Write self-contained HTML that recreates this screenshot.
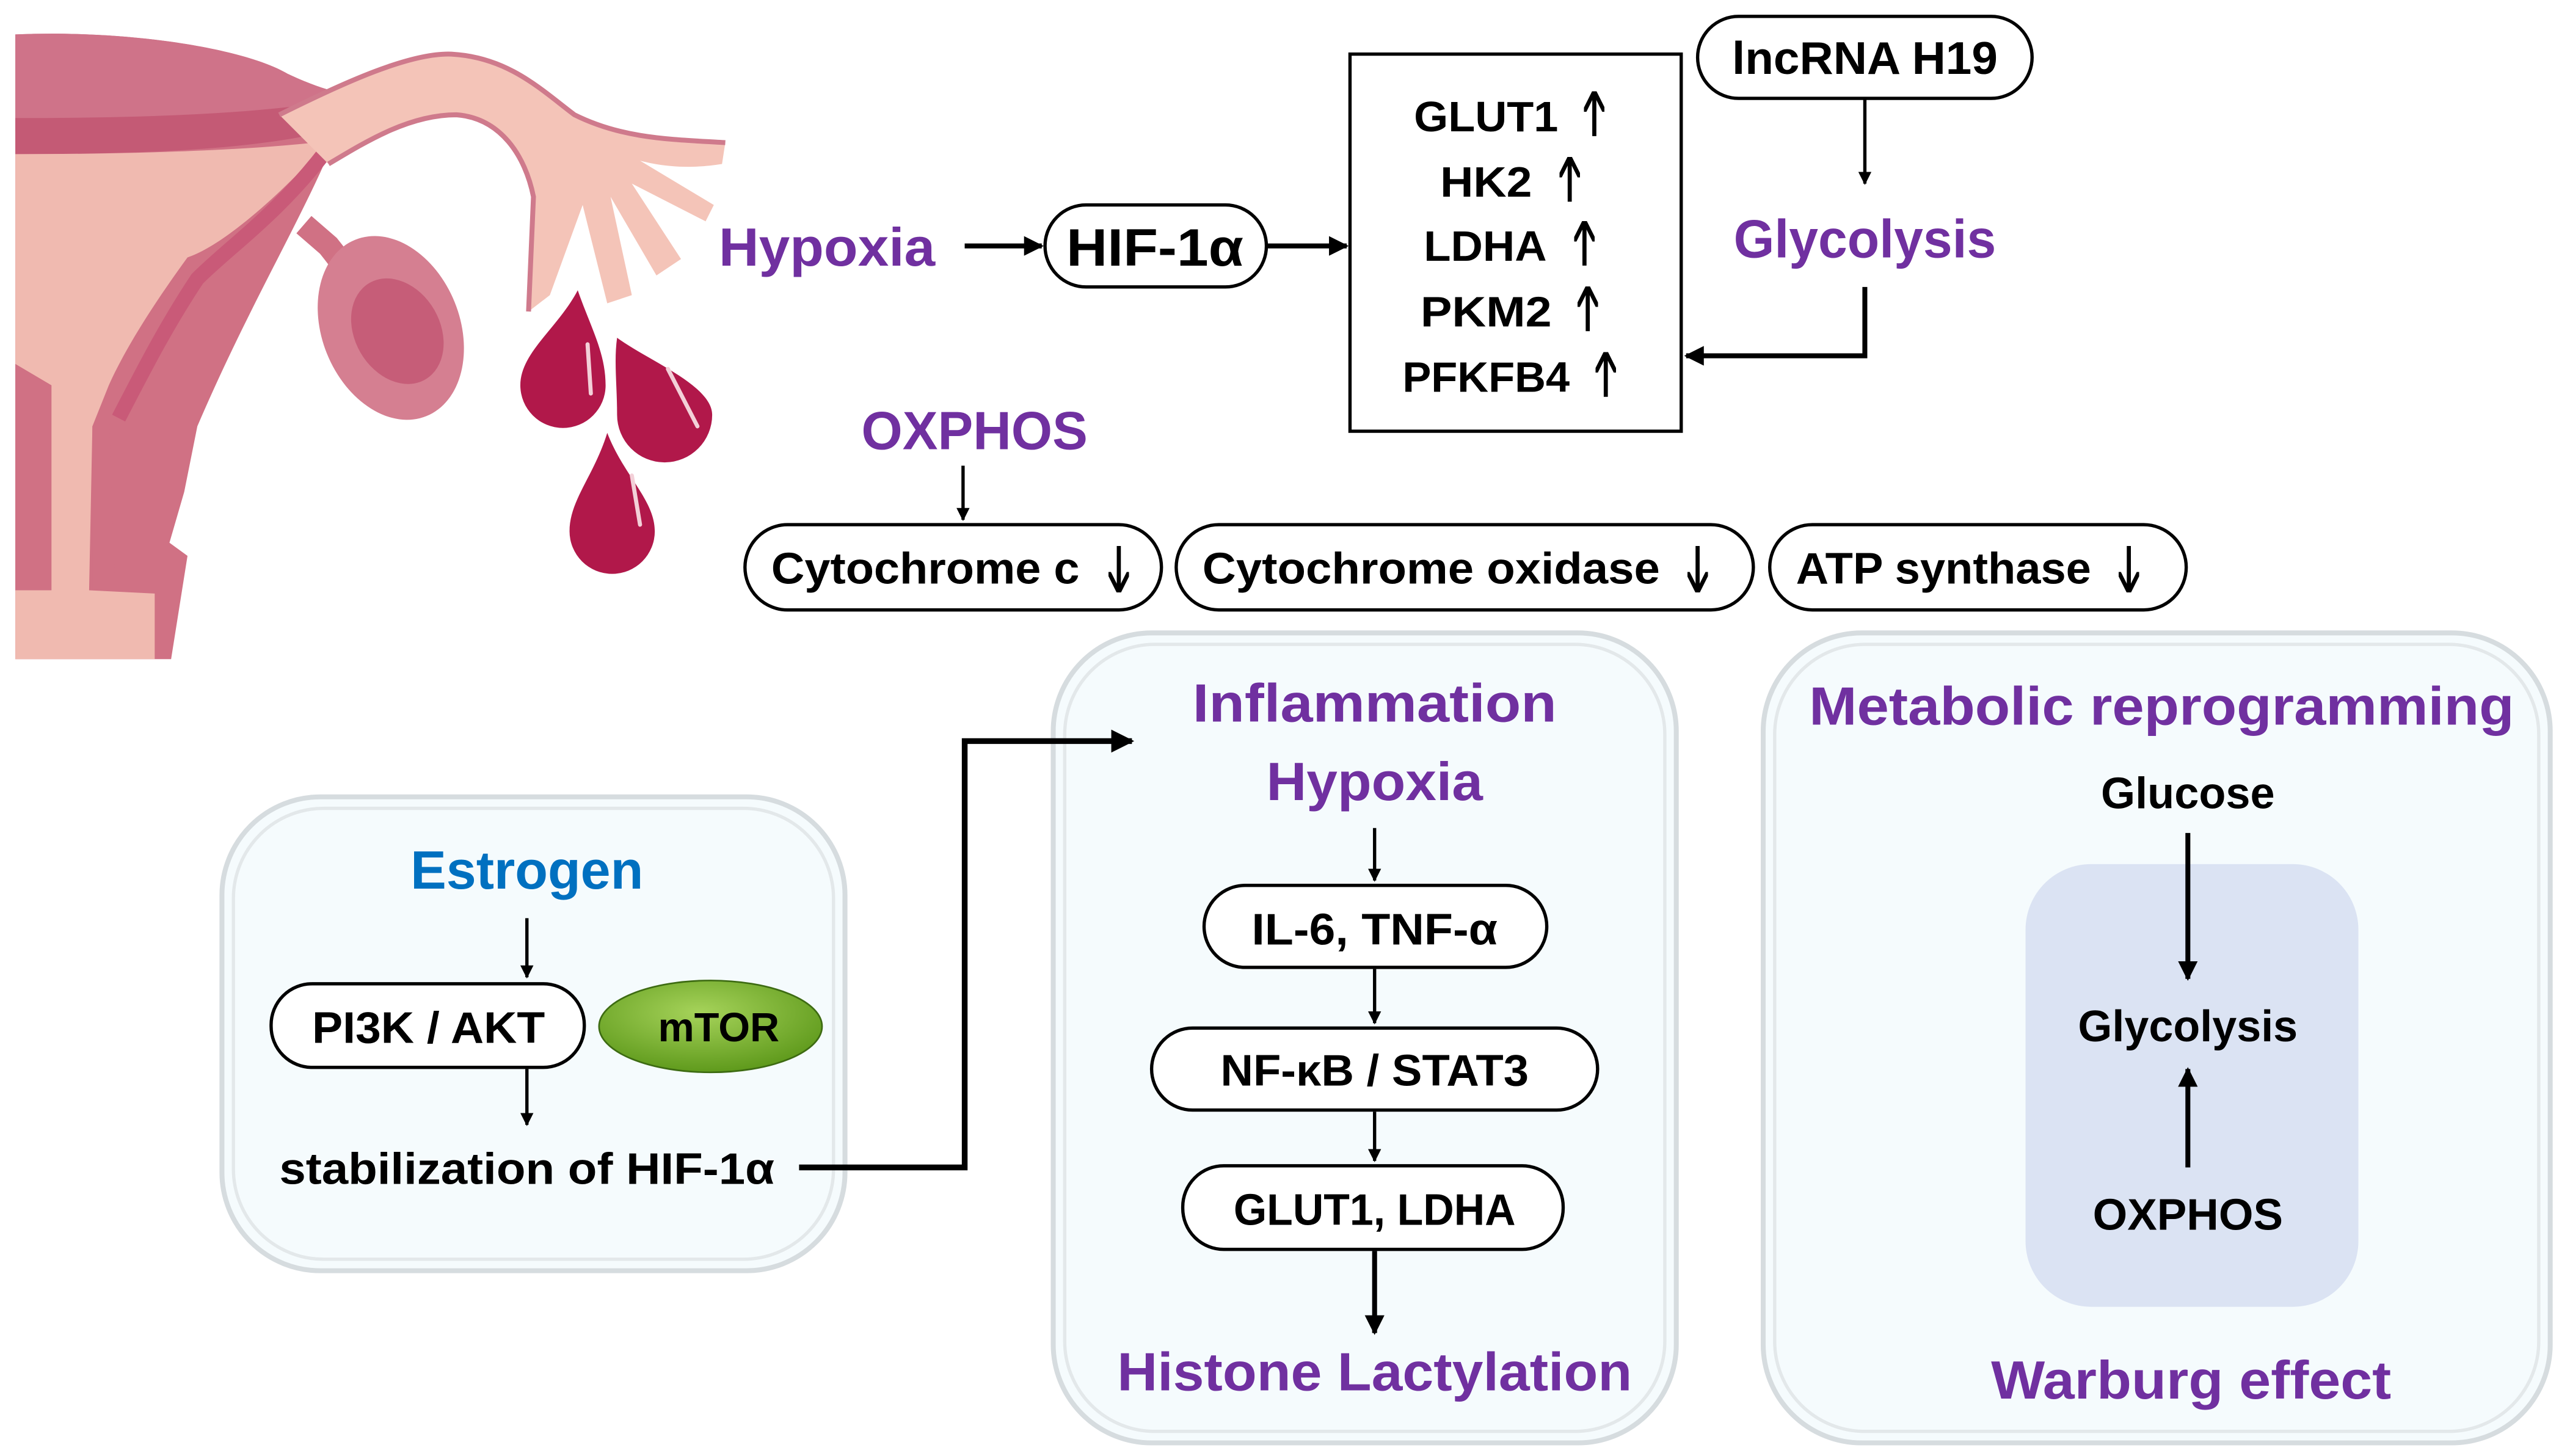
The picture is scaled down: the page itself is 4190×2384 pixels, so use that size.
<!DOCTYPE html>
<html><head><meta charset="utf-8"><style>
html,body{margin:0;padding:0;background:#fff;}
svg{display:block;}
text{font-family:"Liberation Sans",sans-serif;font-weight:bold;}
</style></head><body>
<svg width="4190" height="2384" viewBox="0 0 1560 888" xmlns="http://www.w3.org/2000/svg">
<defs>
<marker id="a" viewBox="0 0 10 10" refX="9" refY="5" markerWidth="4" markerHeight="4" orient="auto"><path d="M0,0L10,5L0,10z" fill="#000"/></marker>
<marker id="o" viewBox="0 0 10 10" refX="9" refY="5" markerWidth="5" markerHeight="5" orient="auto"><path d="M0,0L10,5L0,10" fill="none" stroke="#000" stroke-width="2"/></marker>
<radialGradient id="g" cx="45%" cy="35%" r="65%"><stop offset="0" stop-color="#a6d35a"/><stop offset="1" stop-color="#5f9a1c"/></radialGradient>
</defs>
<!-- uterus illustration -->
<path d="M9,21 C80,18 150,30 175,45 C190,52 200,55 205,56 L200,94 C180,140 150,190 120,260 L112,300 L103,331 L114,339 L104,402 L9,402 Z" fill="#d07184"/>
<path d="M9,21 C80,18 150,30 175,45 C190,52 200,55 205,56 L200,72 C150,78 80,80 9,80 Z" fill="#cf7389"/>
<path d="M9,72 C80,72 150,70 200,62 L200,80 C150,92 80,94 9,94 Z" fill="#c45a75"/>
<path d="M9,94 C80,94 150,92 200,86 C170,120 135,150 114,157 C90,190 75,215 66,235 L56,260 L54,360 L94,362 L94,402 L9,402 L9,360 L31,360 L31,235 L9,222 Z" fill="#f0bab0"/>
<path d="M200,90 C170,130 140,150 120,170 C100,200 85,230 72,255" stroke="#c95a78" stroke-width="9" fill="none"/>
<path d="M9,222 L31,235 L31,360 L9,360 Z" fill="#d07184"/>
<path d="M56,260 L66,250 L70,360 L56,360 Z" fill="#d07184"/>
<!-- tube -->
<path d="M170,70 C210,50 250,32 275,33 C310,35 330,55 350,70 C380,85 410,85 442,87 L440,100 C415,104 398,100 390,98 L435,125 L430,135 L385,112 L415,158 L400,168 L372,120 L385,180 L370,185 L355,125 L335,180 L322,190 L325,120 C320,95 305,72 278,70 C250,70 225,85 200,100 Z" fill="#f4c4b8"/>
<path d="M170,70 C210,50 250,32 275,33 C310,35 330,55 350,70 C380,85 410,85 442,87" stroke="#cf7a8c" stroke-width="3" fill="none"/>
<path d="M200,100 C225,85 250,70 278,70 C305,72 320,95 325,120 L322,190" stroke="#cf7a8c" stroke-width="3" fill="none"/>
<path d="M185,137 L200,150 C208,160 215,170 220,178" stroke="#d07184" stroke-width="14" fill="none"/>
<ellipse cx="238" cy="200" rx="42" ry="58" fill="#d57f91" transform="rotate(-22 238 200)"/>
<ellipse cx="242" cy="202" rx="26" ry="34" fill="#c65d78" transform="rotate(-30 242 202)"/>
<!-- drops -->
<path d="M352,177 C360,200 369,215 369,235 A26,26 0 0 1 317,235 C317,215 340,200 352,177Z" fill="#b1184a"/>
<path d="M376,206 C395,220 434,235 434,253 A29,29 0 0 1 376,253 C376,235 374,220 376,206Z" fill="#b1184a"/>
<path d="M370,264 C380,290 399,305 399,324 A26,26 0 0 1 347,324 C347,305 362,290 370,264Z" fill="#b1184a"/>
<path d="M358,210 L360,240 M407,225 L425,260 M385,290 L390,320" stroke="#f3d0d8" stroke-width="2.5" stroke-linecap="round"/>

<!-- top flow -->
<text x="504" y="162" font-size="33" fill="#7030a0" text-anchor="middle" textLength="132" lengthAdjust="spacingAndGlyphs">Hypoxia</text>
<line x1="588" y1="150" x2="635" y2="150" stroke="#000" stroke-width="3" marker-end="url(#a)"/>
<rect x="637" y="125" width="135" height="50" rx="25" fill="#fff" stroke="#000" stroke-width="2"/>
<text x="704" y="162" font-size="32" text-anchor="middle" textLength="108" lengthAdjust="spacingAndGlyphs">HIF-1α</text>
<line x1="772" y1="150" x2="821" y2="150" stroke="#000" stroke-width="3" marker-end="url(#a)"/>
<rect x="823" y="33" width="202" height="230" fill="#fff" stroke="#000" stroke-width="2"/>
<g font-size="26" text-anchor="end">
<text x="950" y="80" textLength="88" lengthAdjust="spacingAndGlyphs">GLUT1</text>
<text x="934" y="120" textLength="56" lengthAdjust="spacingAndGlyphs">HK2</text>
<text x="943" y="159" textLength="75" lengthAdjust="spacingAndGlyphs">LDHA</text>
<text x="946" y="199" textLength="80" lengthAdjust="spacingAndGlyphs">PKM2</text>
<text x="957" y="239" textLength="102" lengthAdjust="spacingAndGlyphs">PFKFB4</text>
</g>
<g stroke="#000" stroke-width="2.5" marker-end="url(#o)">
<line x1="972" y1="83" x2="972" y2="57"/>
<line x1="957" y1="123" x2="957" y2="97"/>
<line x1="966" y1="162" x2="966" y2="136"/>
<line x1="968" y1="202" x2="968" y2="176"/>
<line x1="979" y1="242" x2="979" y2="216"/>
<line x1="682" y1="333" x2="682" y2="360"/>
<line x1="1035" y1="333" x2="1035" y2="360"/>
<line x1="1298" y1="333" x2="1298" y2="360"/>
</g>
<rect x="1035" y="10" width="204" height="50" rx="25" fill="#fff" stroke="#000" stroke-width="2"/>
<text x="1137" y="45" font-size="28" text-anchor="middle" textLength="162" lengthAdjust="spacingAndGlyphs">lncRNA H19</text>
<line x1="1137" y1="60" x2="1137" y2="112" stroke="#000" stroke-width="2" marker-end="url(#a)"/>
<text x="1137" y="157" font-size="33" fill="#7030a0" text-anchor="middle" textLength="160" lengthAdjust="spacingAndGlyphs">Glycolysis</text>
<polyline points="1137,175 1137,217 1028,217" fill="none" stroke="#000" stroke-width="3" marker-end="url(#a)"/>
<text x="594" y="274" font-size="33" fill="#7030a0" text-anchor="middle" textLength="138" lengthAdjust="spacingAndGlyphs">OXPHOS</text>
<line x1="587" y1="284" x2="587" y2="317" stroke="#000" stroke-width="2" marker-end="url(#a)"/>
<g fill="none" stroke="#000" stroke-width="2">
<rect x="454" y="320" width="254" height="52" rx="26"/>
<rect x="717" y="320" width="352" height="52" rx="26"/>
<rect x="1079" y="320" width="254" height="52" rx="26"/>
</g>
<g font-size="27" text-anchor="start">
<text x="470" y="356" textLength="188" lengthAdjust="spacingAndGlyphs">Cytochrome c</text>
<text x="733" y="356" textLength="279" lengthAdjust="spacingAndGlyphs">Cytochrome oxidase</text>
<text x="1095" y="356" textLength="180" lengthAdjust="spacingAndGlyphs">ATP synthase</text>
</g>

<!-- panels -->
<g fill="#f5fbfd" stroke="#d6dcdf" stroke-width="3">
<rect x="135" y="486" width="380" height="289" rx="60"/>
<rect x="642" y="386" width="380" height="494" rx="60"/>
<rect x="1075" y="386" width="480" height="494" rx="60"/>
</g>
<g fill="none" stroke="#e3e8ea" stroke-width="2">
<rect x="142" y="493" width="366" height="275" rx="55"/>
<rect x="649" y="393" width="366" height="480" rx="55"/>
<rect x="1082" y="393" width="466" height="480" rx="55"/>
</g>

<!-- estrogen panel -->
<text x="321" y="542" font-size="33" fill="#0070c0" text-anchor="middle" textLength="142" lengthAdjust="spacingAndGlyphs">Estrogen</text>
<line x1="321" y1="560" x2="321" y2="596" stroke="#000" stroke-width="2" marker-end="url(#a)"/>
<rect x="165" y="600" width="191" height="51" rx="25" fill="#fff" stroke="#000" stroke-width="2"/>
<text x="261" y="636" font-size="27" text-anchor="middle" textLength="142" lengthAdjust="spacingAndGlyphs">PI3K / AKT</text>
<ellipse cx="433" cy="626" rx="68" ry="28" fill="url(#g)" stroke="#3d6b12" stroke-width="1"/>
<text x="438" y="635" font-size="25" text-anchor="middle" textLength="74" lengthAdjust="spacingAndGlyphs">mTOR</text>
<line x1="321" y1="652" x2="321" y2="686" stroke="#000" stroke-width="2" marker-end="url(#a)"/>
<text x="321" y="722" font-size="27" text-anchor="middle" textLength="302" lengthAdjust="spacingAndGlyphs">stabilization of HIF-1α</text>
<polyline points="487,712 588,712 588,452 690,452" fill="none" stroke="#000" stroke-width="3.5" marker-end="url(#a)"/>

<!-- middle panel -->
<text x="838" y="440" font-size="33" fill="#7030a0" text-anchor="middle" textLength="222" lengthAdjust="spacingAndGlyphs">Inflammation</text>
<text x="838" y="488" font-size="33" fill="#7030a0" text-anchor="middle" textLength="132" lengthAdjust="spacingAndGlyphs">Hypoxia</text>
<line x1="838" y1="505" x2="838" y2="537" stroke="#000" stroke-width="2" marker-end="url(#a)"/>
<rect x="734" y="540" width="209" height="50" rx="25" fill="#fff" stroke="#000" stroke-width="2"/>
<text x="838" y="576" font-size="27" text-anchor="middle" textLength="150" lengthAdjust="spacingAndGlyphs">IL-6, TNF-α</text>
<line x1="838" y1="591" x2="838" y2="624" stroke="#000" stroke-width="2" marker-end="url(#a)"/>
<rect x="702" y="627" width="272" height="50" rx="25" fill="#fff" stroke="#000" stroke-width="2"/>
<text x="838" y="662" font-size="27" text-anchor="middle" textLength="188" lengthAdjust="spacingAndGlyphs">NF-κB / STAT3</text>
<line x1="838" y1="678" x2="838" y2="708" stroke="#000" stroke-width="2" marker-end="url(#a)"/>
<rect x="721" y="711" width="232" height="51" rx="25" fill="#fff" stroke="#000" stroke-width="2"/>
<text x="838" y="747" font-size="27" text-anchor="middle" textLength="172" lengthAdjust="spacingAndGlyphs">GLUT1, LDHA</text>
<line x1="838" y1="763" x2="838" y2="813" stroke="#000" stroke-width="3" marker-end="url(#a)"/>
<text x="838" y="848" font-size="33" fill="#7030a0" text-anchor="middle" textLength="314" lengthAdjust="spacingAndGlyphs">Histone Lactylation</text>

<!-- right panel -->
<text x="1318" y="442" font-size="33" fill="#7030a0" text-anchor="middle" textLength="430" lengthAdjust="spacingAndGlyphs">Metabolic reprogramming</text>
<rect x="1235" y="527" width="203" height="270" rx="40" fill="#dbe3f3"/>
<text x="1334" y="493" font-size="27" text-anchor="middle" textLength="106" lengthAdjust="spacingAndGlyphs">Glucose</text>
<line x1="1334" y1="508" x2="1334" y2="597" stroke="#000" stroke-width="3" marker-end="url(#a)"/>
<text x="1334" y="635" font-size="27" text-anchor="middle" textLength="134" lengthAdjust="spacingAndGlyphs">Glycolysis</text>
<line x1="1334" y1="712" x2="1334" y2="652" stroke="#000" stroke-width="3" marker-end="url(#a)"/>
<text x="1334" y="750" font-size="27" text-anchor="middle" textLength="116" lengthAdjust="spacingAndGlyphs">OXPHOS</text>
<text x="1336" y="853" font-size="33" fill="#7030a0" text-anchor="middle" textLength="244" lengthAdjust="spacingAndGlyphs">Warburg effect</text>
</svg>
</body></html>
